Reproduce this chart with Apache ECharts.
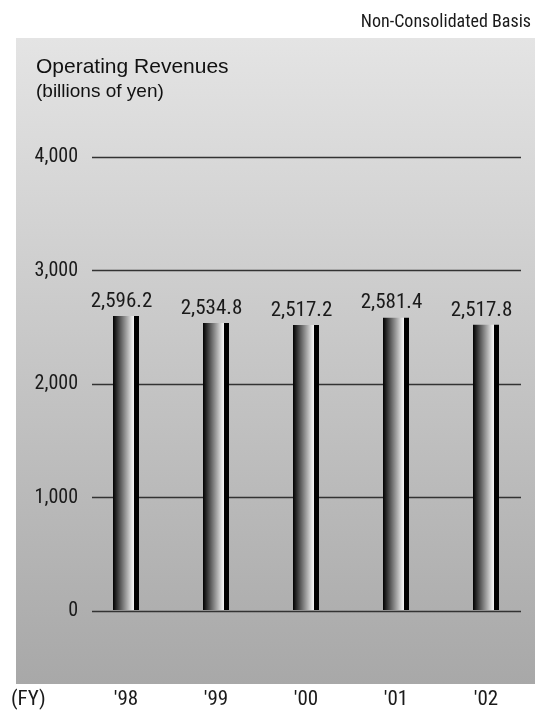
<!DOCTYPE html>
<html>
<head>
<meta charset="utf-8">
<script src="https://cdn.jsdelivr.net/npm/echarts@6/dist/echarts.min.js"></script>
<style>
html,body{margin:0;padding:0;background:#fff;}
#c{width:535px;height:710px;}
</style>
</head>
<body>
<div id="c"></div>
<script>
var categories = ["'98", "'99", "'00", "'01", "'02"];
var revenues = [2596.2, 2534.8, 2517.2, 2581.4, 2517.8];
var yTicks = [0, 1000, 2000, 3000, 4000];

var NARROW = "'Liberation Sans Narrow', 'Arial Narrow', 'Roboto Condensed', sans-serif";
var REG = "'Liberation Sans', Arial, Helvetica, sans-serif";

var chart = echarts.init(document.getElementById('c'));
chart.setOption({
  animation: false,
  backgroundColor: '#ffffff',
  graphic: [
    {
      type: 'rect', z: -10, silent: true,
      shape: { x: 16, y: 38, width: 519, height: 646 },
      style: {
        fill: new echarts.graphic.LinearGradient(0, 0, 0, 1, [
          { offset: 0, color: '#e4e4e4' },
          { offset: 1, color: '#a8a8a8' }
        ])
      }
    },
    { type: 'text', left: null, x: 531, y: 22, style: { text: 'Non-Consolidated Basis', fill: '#1a1a1a', font: '18px ' + NARROW, textAlign: 'right', textVerticalAlign: 'middle' } },
    { type: 'text', x: 36, y: 67.5, style: { text: 'Operating Revenues', fill: '#111', font: '21px ' + REG, textAlign: 'left', textVerticalAlign: 'middle' } },
    { type: 'text', x: 36, y: 92, style: { text: '(billions of yen)', fill: '#111', font: '19px ' + REG, textAlign: 'left', textVerticalAlign: 'middle' } },
    { type: 'text', x: 11, y: 700, style: { text: '(FY)', fill: '#1a1a1a', font: '21px ' + NARROW, textAlign: 'left', textVerticalAlign: 'middle' } }
  ],
  grid: [
    { left: 92, right: 14, top: 157, bottom: 99 },
    { left: 81, right: 4, top: 157, bottom: 99 }
  ],
  xAxis: [
    { gridIndex: 0, type: 'category', data: categories, show: false },
    {
      gridIndex: 1, type: 'category', data: categories,
      axisLine: { show: false }, axisTick: { show: false },
      axisLabel: { margin: 79, color: '#1a1a1a', fontSize: 21, fontFamily: NARROW }
    }
  ],
  yAxis: [
    {
      gridIndex: 0, type: 'value', min: yTicks[0], max: yTicks[yTicks.length - 1], interval: 1000,
      axisLine: { show: false }, axisTick: { show: false },
      splitLine: { lineStyle: { color: '#333', width: 1.3 } },
      axisLabel: {
        margin: 14, color: '#1a1a1a', fontSize: 20, fontFamily: NARROW, padding: [0, 0, 8, 0],
        formatter: function (v) { return v.toLocaleString('en-US'); }
      }
    },
    { gridIndex: 1, type: 'value', min: yTicks[0], max: yTicks[yTicks.length - 1], interval: 1000, show: false, splitLine: { show: false } }
  ],
  series: [
    {
      type: 'bar', xAxisIndex: 1, yAxisIndex: 1, data: revenues,
      barWidth: 21, barGap: '0%',
      itemStyle: {
        color: new echarts.graphic.LinearGradient(0, 0, 1, 0, [
          { offset: 0, color: '#000000' },
          { offset: 0.92, color: '#e8e8e8' },
          { offset: 1, color: '#f4f4f4' }
        ])
      },
      label: {
        show: true, position: 'top', distance: 4, offset: [-2, 0],
        color: '#1a1a1a', fontSize: 21, fontFamily: NARROW,
        formatter: function (p) { return p.value.toLocaleString('en-US', { minimumFractionDigits: 1, maximumFractionDigits: 1 }); }
      }
    },
    {
      type: 'bar', xAxisIndex: 1, yAxisIndex: 1, data: revenues,
      barWidth: 5, barGap: '0%',
      itemStyle: { color: '#000000' }
    }
  ]
});
</script>
</body>
</html>
